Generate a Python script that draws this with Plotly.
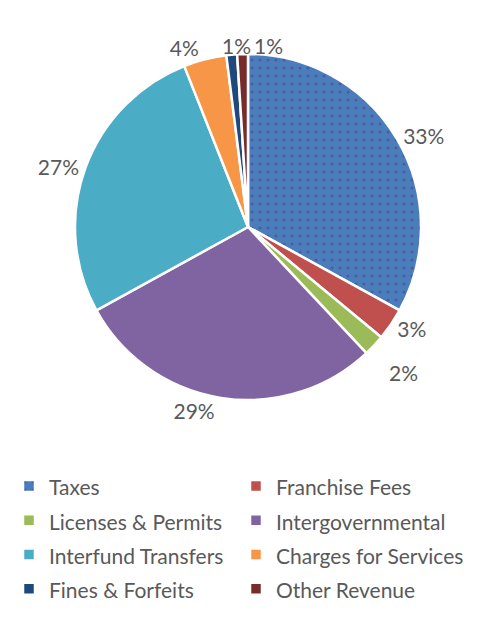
import math

import plotly.graph_objects as go

# revenue sources, share of total (%)
categories = [
    "Taxes", "Franchise Fees", "Licenses & Permits", "Intergovernmental",
    "Interfund Transfers", "Charges for Services", "Fines & Forfeits", "Other Revenue",
]
shares = [33, 3, 2, 29, 27, 4, 1, 1]

colors = ["#4A7EBB", "#C0504D", "#9BBB59", "#8064A2",
          "#4BACC6", "#F79646", "#1F497D", "#772C2A"]
patterns = [".", "", "", "", "", "", "", ""]

TEXT = "#595959"
FONT = "Lato, 'Open Sans', sans-serif"
W, H = 483, 632
OFF = 8  # the page body margin shifts the figure by 8px

# pie geometry in page pixels
CX, CY, R = 248, 227, 173

# slices whose labels plotly would stack on top of each other get their own label
small = {"Licenses & Permits", "Fines & Forfeits", "Other Revenue"}
textpos = ["none" if c in small else "outside" for c in categories]

# legend rows in the original are taller than the text, so the legend font sets the
# row height and the label itself is drawn at the normal size
legend_labels = [f"<span style='font-size:21px'>{c}</span>" for c in categories]


def px_to_paper(px, py):
    return (px - OFF) / W, 1 - (py - OFF) / H


def slice_point(frac, k):
    """Point at k*R along the angle for cumulative fraction frac (clockwise from 12)."""
    a = 2 * math.pi * frac
    return px_to_paper(CX + k * R * math.sin(a), CY - k * R * math.cos(a))


total = sum(shares)
cum = []
run = 0
for s in shares:
    cum.append((run / total, (run + s) / total))
    run += s

x0, y1 = px_to_paper(CX - R, CY - R)
x1, y0 = px_to_paper(CX + R, CY + R)

fig = go.Figure(go.Pie(
    labels=legend_labels,
    values=shares,
    sort=False,
    direction="clockwise",
    rotation=0,
    textposition=textpos,
    texttemplate="%{percent:.0%}",
    textfont=dict(size=21, color=TEXT, family=FONT),
    marker=dict(
        colors=colors,
        line=dict(color="white", width=2.5),
        pattern=dict(shape=patterns, fgcolor="#5257A8", bgcolor=colors,
                     size=8, solidity=0.12),
    ),
    domain=dict(x=[x0, x1], y=[y0, y1]),
    hoverinfo="skip",
))

# labels for the three thin slices, placed from their angles
label_spec = {
    "Licenses & Permits": dict(where="mid", k=1.23, xanchor="center"),
    "Fines & Forfeits": dict(where="end", k=1.05, xanchor="center"),
    "Other Revenue": dict(where="end", k=1.05, xanchor="left"),
}
for i, c in enumerate(categories):
    if c not in label_spec:
        continue
    spec = label_spec[c]
    a0, a1 = cum[i]
    frac = (a0 + a1) / 2 if spec["where"] == "mid" else a1
    ax, ay = slice_point(frac, spec["k"])
    fig.add_annotation(
        x=ax, y=ay, xref="paper", yref="paper",
        text=f"{shares[i] / total:.0%}",
        showarrow=False,
        xanchor=spec["xanchor"], yanchor="middle",
        xshift=4 if spec["xanchor"] == "left" else 0,
        font=dict(size=21, color=TEXT, family=FONT),
    )

lx, ly = px_to_paper(9, 464)

fig.update_layout(
    width=W,
    height=H,
    margin=dict(l=0, r=0, t=0, b=0, autoexpand=False),
    paper_bgcolor="white",
    font=dict(family=FONT, color=TEXT),
    showlegend=True,
    legend=dict(
        orientation="h",
        entrywidth=182,
        entrywidthmode="pixels",
        x=lx,
        xanchor="left",
        y=ly,
        yanchor="top",
        font=dict(size=24, color=TEXT, family=FONT),
        traceorder="normal",
    ),
)

fig.write_html("out.html")
